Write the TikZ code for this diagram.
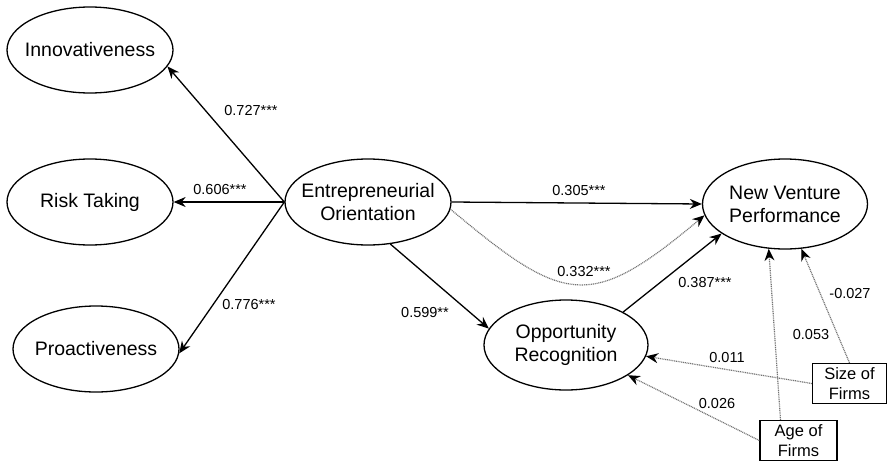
\documentclass[tikz,border=0pt]{standalone}
\usepackage{fontspec}
\setmainfont{Liberation Sans}
\usetikzlibrary{shapes.geometric,arrows.meta}
\begin{document}
\begin{tikzpicture}[x=1pt,y=-1pt,
  lat/.style={draw,ellipse,line width=1.3pt,minimum width=166pt,minimum height=86pt,inner xsep=-22pt,inner ysep=0pt,
    font=\fontsize{19.5}{23}\selectfont,align=center},
  ctrl/.style={draw,rectangle,line width=1.3pt,minimum height=40pt,inner sep=2pt,
    font=\fontsize{16.5}{20}\selectfont,align=center},
  arr/.style={line width=1.3pt,-{Stealth[length=12pt,width=10pt]}},
  darr/.style={line width=1.2pt,draw=black!55,dash pattern=on 1pt off 0.8pt,-{Stealth[length=12pt,width=10pt,color=black]}},
  lbl/.style={font=\fontsize{14.5}{17}\selectfont,inner sep=1pt}]
\useasboundingbox (0,0) rectangle (887,461);
\node[lat] (inn) at (90,50) {Innovativeness};
\node[lat] (risk) at (90,202) {Risk Taking};
\node[lat] (pro) at (96,349) {Proactiveness};
\node[lat] (eo) at (368,202) {Entrepreneurial\\Orientation};
\node[lat,minimum width=165pt,minimum height=90pt] (nvp) at (785,204) {New Venture\\Performance};
\node[lat,minimum width=164pt,minimum height=90pt] (or) at (566,345) {Opportunity\\Recognition};
\node[ctrl,minimum width=74pt] (size) at (849.5,383.5) {Size of\\Firms};
\node[ctrl,minimum width=77pt] (age) at (798.5,440.5) {Age of\\Firms};

\draw[arr] (eo.west) -- (inn.-12);
\draw[arr] (eo.west) -- (risk.east);
\draw[arr] (eo.west) -- (pro.-3);
\draw[arr] (eo.east) -- (nvp.west);
\draw[arr] (eo.-62) -- (or.168);
\draw[arr] (or.30) -- (nvp.-155);
\draw[darr] (eo.-5) to[out=-40,in=-140,looseness=1.5] (nvp.188);
\draw[darr] ([xshift=-18pt]age.north) -- (nvp.-110);
\draw[darr] (size.north) -- (nvp.-70);
\draw[darr] (size.west) -- (or.-8);
\draw[darr] (age.west) -- (or.-26);

\node[lbl] (l1) at (251,111) {0.727***};
\node[lbl] (l2) at (220,190) {0.606***};
\node[lbl] (l3) at (249,305) {0.776***};
\node[lbl] (l4) at (579,191) {0.305***};
\node[lbl] (l5) at (584,272) {0.332***};
\node[lbl] (l6) at (425,313) {0.599**};
\node[lbl] (l7) at (705,283) {0.387***};
\node[lbl] (l8) at (727,358) {0.011};
\node[lbl] (l9) at (717,404) {0.026};
\node[lbl] (l10) at (811,335) {0.053};
\node[lbl] (l11) at (850,294) {-0.027};
\end{tikzpicture}
\end{document}
